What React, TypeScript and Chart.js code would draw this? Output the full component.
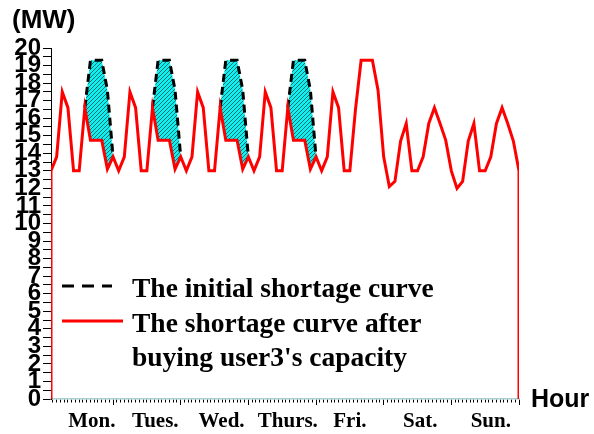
import React, { useEffect, useRef } from 'react';
import { Chart, registerables } from 'chart.js';

Chart.register(...registerables);

// x values (hours) of the samples
const hours = [
  2, 4, 6, 8, 10, 12, 14, 16, 18, 20, 22, 24,
  26, 28, 30, 32, 34, 36, 38, 40, 42, 44, 46, 48,
  50, 52, 54, 56, 58, 60, 62, 64, 66, 68, 70, 72,
  74, 76, 78, 80, 82, 84, 86, 88, 90, 92, 94, 96,
  98, 100, 102, 104, 106, 108, 110, 112, 114, 116, 118, 120,
  122, 124, 126, 128, 130, 132, 134, 136, 138, 140, 142, 144,
  146, 148, 150, 152, 154, 156, 158, 160, 162, 164, 166, 168,
];

// The shortage curve after buying user3's capacity (MW)
const shortageAfter = [
  13, 13.8, 17.5, 16.6, 13, 13, 16.6, 14.75, 14.75, 14.75, 13.1, 13.8,
  13, 13.8, 17.5, 16.6, 13, 13, 16.6, 14.75, 14.75, 14.75, 13.1, 13.8,
  13, 13.8, 17.5, 16.6, 13, 13, 16.6, 14.75, 14.75, 14.75, 13.1, 13.8,
  13, 13.8, 17.5, 16.6, 13, 13, 16.6, 14.75, 14.75, 14.75, 13.1, 13.8,
  13, 13.8, 17.5, 16.6, 13, 13, 16.5, 19.3, 19.3, 19.3, 17.6, 13.8,
  12.1, 12.4, 14.7, 15.7, 13, 13, 13.8, 15.7, 16.6, 15.7, 14.75, 13,
  12.0, 12.4, 14.7, 15.7, 13, 13, 13.8, 15.7, 16.6, 15.7, 14.7, 13,
];

// The initial shortage curve (MW) where it differs (null elsewhere)
const shortageInitial = [
  null, null, null, null, null, null, 16.6, 19.3, 19.3, 19.3, 17.6, 13.8,
  null, null, null, null, null, null, 16.6, 19.3, 19.3, 19.3, 17.6, 13.8,
  null, null, null, null, null, null, 16.6, 19.3, 19.3, 19.3, 17.6, 13.8,
  null, null, null, null, null, null, 16.6, 19.3, 19.3, 19.3, 17.6, 13.8,
  null, null, null, null, null, null, null, null, null, null, null, null,
  null, null, null, null, null, null, null, null, null, null, null, null,
  null, null, null, null, null, null, null, null, null, null, null, null,
];

const edgeValue = 0; // curve drops to 0 at both ends

const dayLabels = ['Mon.', 'Tues.', 'Wed.', 'Thurs.', 'Fri.', 'Sat.', 'Sun.'];
const dayLabelHours = [16.5, 39, 62.5, 86, 108, 133, 158];

const xMin = 2;
const xMax = 168;
const yMin = 0;
const yMax = 20;
const yStep = 0.5;
const xMinorStep = 4 / 3;
const xMajorStep = 24;

const unitLabel = '(MW)';
const xTitle = 'Hour';
const legendLines = [
  ['The initial shortage curve'],
  ['The shortage curve after', "buying user3's capacity"],
];

const SANS = '"Liberation Sans", Arial, sans-serif';
const SERIF = '"Liberation Serif", "Times New Roman", serif';

function makeHatch(ctx: CanvasRenderingContext2D): CanvasPattern | string {
  const c = document.createElement('canvas');
  c.width = 4;
  c.height = 4;
  const g = c.getContext('2d');
  if (!g) return '#22cccc';
  g.fillStyle = '#0ff0f0';
  g.fillRect(0, 0, 4, 4);
  g.strokeStyle = '#087070';
  g.lineWidth = 1;
  g.beginPath();
  g.moveTo(0, 4);
  g.lineTo(4, 0);
  g.moveTo(-1, 1);
  g.lineTo(1, -1);
  g.moveTo(3, 5);
  g.lineTo(5, 3);
  g.stroke();
  return ctx.createPattern(c, 'repeat') || '#22cccc';
}

const overlayPlugin = {
  id: 'overlayText',
  afterDraw(chart: any) {
    const ctx = chart.ctx as CanvasRenderingContext2D;
    ctx.save();
    ctx.fillStyle = '#000';
    ctx.textAlign = 'left';
    ctx.textBaseline = 'alphabetic';
    ctx.font = `bold 26px ${SANS}`;
    ctx.fillText(unitLabel, 12, 28);
    ctx.font = `bold 25px ${SANS}`;
    ctx.fillText(xTitle, 531, 407);

    const ds = chart.data.datasets;
    const rows = [
      { d: ds[1], lines: legendLines[0], lineY: 286, textY: 297, x2: 112, dash: [12, 8] },
      { d: ds[0], lines: legendLines[1], lineY: 321, textY: 332, x2: 123, dash: [] as number[] },
    ];
    rows.forEach((r) => {
      ctx.save();
      ctx.strokeStyle = r.d.borderColor;
      ctx.lineWidth = 3;
      ctx.setLineDash(r.dash);
      ctx.beginPath();
      ctx.moveTo(62, r.lineY);
      ctx.lineTo(r.x2, r.lineY);
      ctx.stroke();
      ctx.restore();
      ctx.font = `bold 27.5px ${SERIF}`;
      ctx.fillStyle = '#000';
      r.lines.forEach((t, i) => ctx.fillText(t, 132, r.textY + i * 34));
    });
    ctx.restore();
  },
};

export default function App() {
  const ref = useRef<HTMLCanvasElement>(null);

  useEffect(() => {
    document.body.style.margin = '0';
    const canvas = ref.current;
    if (!canvas) return;
    const ctx0 = canvas.getContext('2d') as CanvasRenderingContext2D;
    const hatch = makeHatch(ctx0);

    const redData = [
      { x: hours[0], y: edgeValue },
      ...hours.map((h, i) => ({ x: h, y: shortageAfter[i] })),
      { x: hours[hours.length - 1], y: edgeValue },
    ];
    const blackData = hours.map((h, i) => ({ x: h, y: shortageInitial[i] }));

    const chart = new Chart(canvas, {
      type: 'line',
      data: {
        datasets: [
          {
            label: legendLines[1].join(' '),
            data: redData as any,
            borderColor: '#ff0000',
            borderWidth: 3,
            pointRadius: 0,
            tension: 0,
            fill: false,
          },
          {
            label: legendLines[0].join(' '),
            data: blackData as any,
            borderColor: '#000000',
            borderWidth: 3,
            borderDash: [8, 5],
            pointRadius: 0,
            tension: 0,
            spanGaps: false,
            fill: { target: 0 },
            backgroundColor: hatch as any,
          },
        ],
      },
      options: {
        responsive: false,
        animation: false,
        events: [],
        layout: { padding: { top: 48, right: 75, left: 0, bottom: 0 } },
        plugins: {
          legend: { display: false },
          tooltip: { enabled: false },
          title: { display: false },
        },
        scales: {
          x: {
            type: 'linear',
            min: xMin,
            max: xMax,
            afterBuildTicks: (scale: any) => {
              const t: any[] = [];
              const n = Math.round(xMax / xMinorStep);
              for (let k = Math.ceil(xMin / xMinorStep); k <= n; k++) {
                const v = k * xMinorStep;
                const isMajor = Math.abs(v / xMajorStep - Math.round(v / xMajorStep)) < 1e-6;
                t.push({ value: v, isMajor });
              }
              dayLabelHours.forEach((v, i) => t.push({ value: v, dayLabel: dayLabels[i] }));
              scale.ticks = t;
            },
            afterFit: (scale: any) => {
              scale.height = 35;
            },
            ticks: {
              autoSkip: false,
              maxRotation: 0,
              minRotation: 0,
              padding: 4,
              color: '#000',
              font: { family: SERIF, size: 21, weight: 'bold' },
              callback: (_v: any, i: number, ticks: any[]) => ticks[i].dayLabel || '',
            },
            grid: {
              drawOnChartArea: false,
              drawTicks: true,
              tickLength: 6,
              tickWidth: 1,
              tickColor: (c: any) => (c.tick && c.tick.dayLabel ? 'rgba(0,0,0,0)' : '#000'),
              tickBorderDash: (c: any) => (c.tick && c.tick.isMajor ? [] : [3, 50]),
            } as any,
            border: { display: true, color: '#a9cfcf', width: 1.5 },
          },
          y: {
            type: 'linear',
            min: yMin,
            max: yMax,
            afterBuildTicks: (scale: any) => {
              const t: any[] = [];
              for (let k = 0; k <= Math.round((yMax - yMin) / yStep); k++) t.push({ value: yMin + k * yStep });
              scale.ticks = t;
            },
            afterFit: (scale: any) => {
              scale.width = 51;
            },
            ticks: {
              autoSkip: false,
              padding: 2,
              color: '#000',
              font: { family: SANS, size: 24, weight: 'bold' },
              callback: (v: any) => (Number.isInteger(v) ? String(v) : ''),
            },
            grid: {
              drawOnChartArea: false,
              drawTicks: true,
              tickLength: 8,
              tickColor: '#000',
              tickWidth: 1,
            },
            border: { display: true, color: '#000', width: 1 },
          },
        },
      },
      plugins: [overlayPlugin],
    });

    return () => chart.destroy();
  }, []);

  return (
    <div style={{ position: 'absolute', left: 0, top: 0, width: 594, height: 434, background: '#fff' }}>
      <canvas ref={ref} width={594} height={434} style={{ display: 'block', width: 594, height: 434 }} />
    </div>
  );
}
